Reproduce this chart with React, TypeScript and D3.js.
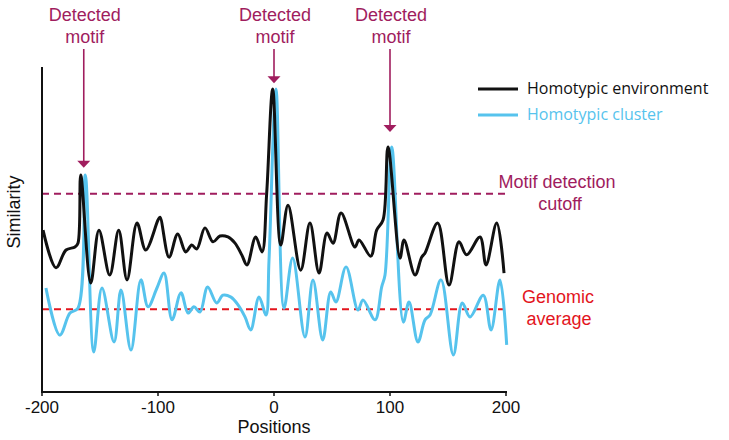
import React from "react";
import * as d3 from "d3";

// Similarity traces (position, similarity)
const envX = [-199.1,-187.9,-179.3,-171.6,-169.0,-166.6,-158.0,-150.9,-141.6,-133.9,-126.7,-118.1,-110.6,-100.0,-98.3,-90.5,-83.0,-76.1,-70.9,-66.6,-59.5,-52.6,-46.6,-39.7,-33.6,-27.8,-23.3,-15.8,-10.3,-6.3,-1.1,5.8,12.1,23.0,31.0,38.8,45.7,50.9,57.8,69.8,73.3,83.4,88.5,94.0,98.3,108.6,112.1,121.6,127.3,130.2,141.1,150.9,159.5,166.1,177.6,182.8,192.0,198.3];
const envY = [49.8,38.2,43.7,44.6,45.8,66.8,33.5,49.8,36.0,49.8,34.5,52.0,43.7,52.9,53.8,41.5,48.6,43.1,45.2,44.0,50.5,46.2,48.0,47.7,45.8,42.2,39.1,47.7,43.1,61.2,93.2,45.2,57.5,37.5,52.0,36.6,48.9,45.8,55.1,44.6,46.8,41.8,49.8,52.9,75.4,41.2,46.8,36.0,41.5,42.8,52.0,32.9,46.2,42.2,47.7,39.1,52.0,36.6];

const clusterX = [-196.6,-184.7,-175.9,-169.0,-162.7,-155.4,-148.3,-137.9,-131.9,-123.3,-114.7,-108.6,-100.9,-94.8,-87.9,-80.2,-74.1,-69.0,-63.8,-57.2,-49.4,-44.0,-37.1,-31.0,-25.0,-20.1,-12.9,-6.9,-4.3,1.7,8.6,16.1,26.7,33.6,42.0,48.9,53.4,62.1,72.4,76.7,87.1,92.8,95.7,101.5,111.5,116.4,124.1,130.2,134.5,144.0,154.6,162.3,169.0,180.4,187.1,194.8,200.6];
const clusterY = [32.0,17.5,24.3,25.8,66.8,12.3,32.0,15.4,31.4,12.9,34.5,26.2,32.0,36.6,22.2,30.5,24.3,26.2,24.6,32.3,27.4,29.8,29.2,26.8,23.1,19.1,29.2,23.7,40.6,93.2,25.8,41.2,16.9,34.5,16.0,30.8,27.7,38.5,25.2,28.3,22.2,32.3,36.0,75.4,21.5,27.7,15.4,22.2,23.7,34.5,11.4,27.4,23.1,29.8,19.1,34.5,14.5];

const xTicks = [-200, -100, 0, 100, 200];
const motifPositions = [-164, 0, 100];
const motifArrowEnds = [69, 95, 80];
const cutoffValue = 61;
const genomicValue = 25.5;
const legendLabels = ["Homotypic environment", "Homotypic cluster"];

const BLUE = "#56c3ed";
const MAROON = "#a01d5e";
const RED = "#e3151d";

export default function App() {
  const x = d3.scaleLinear().domain([-200, 200]).range([42, 506]);
  const y = d3.scaleLinear().domain([0, 100]).range([392, 67]);
  const line = d3
    .line<[number, number]>()
    .x((d) => x(d[0]))
    .y((d) => y(d[1]))
    .curve(d3.curveCatmullRom.alpha(0.5));
  const env = envX.map((v, i) => [v, envY[i]] as [number, number]);
  const clu = clusterX.map((v, i) => [v, clusterY[i]] as [number, number]);
  const arial = "'Liberation Sans', Arial, sans-serif";
  const legendFont = "'Open Sans', 'Noto Sans', sans-serif";

  return (
    <svg width={729} height={440} style={{ position: "absolute", left: 0, top: 0, background: "#fff" }}>
      {/* reference lines */}
      <line x1={x(-200)} x2={505} y1={y(cutoffValue)} y2={y(cutoffValue)} stroke={MAROON} strokeWidth={2} strokeDasharray="7,5" />
      <line x1={x(-200)} x2={505} y1={y(genomicValue)} y2={y(genomicValue)} stroke={RED} strokeWidth={2} strokeDasharray="7,5" />

      {/* series */}
      <path d={line(clu) || ""} fill="none" stroke={BLUE} strokeWidth={3} strokeLinejoin="round" />
      <path d={line(env) || ""} fill="none" stroke="#111" strokeWidth={3} strokeLinejoin="round" />

      {/* axes */}
      <line x1={x(-200)} x2={x(-200)} y1={y(100)} y2={y(0)} stroke="#111" strokeWidth={2} />
      <line x1={x(-200) - 1} x2={x(200) + 1} y1={y(0)} y2={y(0)} stroke="#111" strokeWidth={2} />
      {xTicks.map((t) => (
        <g key={t}>
          <line x1={x(t)} x2={x(t)} y1={y(0)} y2={y(0) + 4} stroke="#111" strokeWidth={1.5} />
          <text x={x(t)} y={413} textAnchor="middle" fontFamily={arial} fontSize={17} fill="#111">
            {t}
          </text>
        </g>
      ))}
      <text x={274} y={433} textAnchor="middle" fontFamily={arial} fontSize={18} fill="#111">
        Positions
      </text>
      <text transform="translate(20,212) rotate(-90)" textAnchor="middle" fontFamily={arial} fontSize={18} fill="#111">
        Similarity
      </text>

      {/* motif annotations */}
      {motifPositions.map((p, i) => {
        const px = x(p);
        const tip = y(motifArrowEnds[i]);
        return (
          <g key={p}>
            <text x={px + 1} y={21} textAnchor="middle" fontFamily={arial} fontSize={18} fill={MAROON}>
              Detected
            </text>
            <text x={px + 1} y={43} textAnchor="middle" fontFamily={arial} fontSize={18} fill={MAROON}>
              motif
            </text>
            <line x1={px} x2={px} y1={49} y2={tip - 5} stroke={MAROON} strokeWidth={1.6} />
            <path d={`M${px - 6.5},${tip - 7}L${px + 6.5},${tip - 7}L${px},${tip}Z`} fill={MAROON} />
          </g>
        );
      })}

      {/* legend */}
      <line x1={478} x2={518} y1={89} y2={89} stroke="#111" strokeWidth={3} />
      <text x={527} y={94} fontFamily={legendFont} fontSize={16} fill="#111">
        {legendLabels[0]}
      </text>
      <line x1={478} x2={518} y1={115} y2={115} stroke={BLUE} strokeWidth={3} />
      <text x={527} y={120} fontFamily={legendFont} fontSize={16} fill={BLUE}>
        {legendLabels[1]}
      </text>

      {/* reference line labels */}
      <text x={557} y={188} textAnchor="middle" fontFamily={arial} fontSize={18} fill={MAROON}>
        Motif detection
      </text>
      <text x={560} y={210} textAnchor="middle" fontFamily={arial} fontSize={18} fill={MAROON}>
        cutoff
      </text>
      <text x={558} y={303} textAnchor="middle" fontFamily={arial} fontSize={18} fill={RED}>
        Genomic
      </text>
      <text x={559} y={325} textAnchor="middle" fontFamily={arial} fontSize={18} fill={RED}>
        average
      </text>
    </svg>
  );
}
